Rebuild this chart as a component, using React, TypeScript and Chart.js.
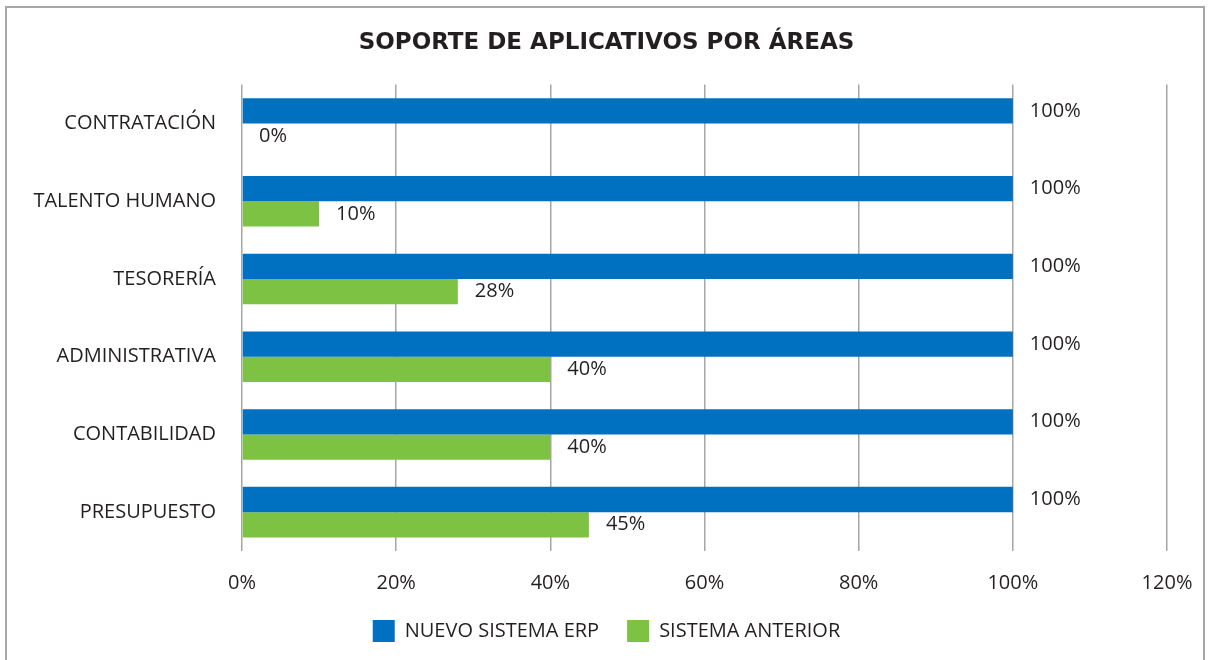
import React, { useEffect, useRef } from "react";
import { Chart, registerables } from "chart.js";

Chart.register(...registerables);

const categories = ["CONTRATACIÓN", "TALENTO HUMANO", "TESORERÍA", "ADMINISTRATIVA", "CONTABILIDAD", "PRESUPUESTO"];
const nuevoSistema = [100, 100, 100, 100, 100, 100];
const sistemaAnterior = [0, 10, 28, 40, 40, 45];
const seriesNames = ["NUEVO SISTEMA ERP", "SISTEMA ANTERIOR"];
const xTicks = [0, 20, 40, 60, 80, 100, 120];
const titleText = "SOPORTE DE APLICATIVOS POR ÁREAS";

const TEXT = "#231F20";
const FONT = '"Open Sans", sans-serif';
const PAD_LEFT = 5;

const valueLabels = {
  id: "valueLabels",
  afterDatasetsDraw(chart: any) {
    const ctx = chart.ctx;
    ctx.save();
    ctx.font = `20px ${FONT}`;
    ctx.fillStyle = TEXT;
    ctx.textAlign = "left";
    ctx.textBaseline = "middle";
    chart.data.datasets.forEach((ds: any, i: number) => {
      const meta = chart.getDatasetMeta(i);
      meta.data.forEach((el: any, j: number) => {
        ctx.fillText(ds.data[j] + "%", el.x + 17, el.y);
      });
    });
    ctx.restore();
  },
};

export default function App() {
  const ref = useRef<HTMLCanvasElement | null>(null);
  useEffect(() => {
    if (!ref.current) return;
    const chart = new Chart(ref.current, {
      type: "bar",
      data: {
        labels: categories,
        datasets: [
          { label: seriesNames[0], data: nuevoSistema, backgroundColor: "#0070C0", borderWidth: 0 },
          { label: seriesNames[1], data: sistemaAnterior, backgroundColor: "#7DC242", borderWidth: 0 },
        ],
      },
      options: {
        indexAxis: "y",
        responsive: false,
        animation: false,
        devicePixelRatio: 1,
        layout: { padding: { left: PAD_LEFT, right: 0, top: 0, bottom: 48 } },
        datasets: { bar: { categoryPercentage: 0.65, barPercentage: 1.0 } },
        scales: {
          x: {
            min: 0,
            max: 120,
            afterBuildTicks: (scale: any) => {
              scale.ticks = xTicks.map((v) => ({ value: v }));
            },
            afterFit: (scale: any) => {
              scale.height = scale.height - 23;
              scale.paddingRight = 0;
            },
            ticks: {
              callback: (v: any) => v + "%",
              color: TEXT,
              font: { family: FONT, size: 20 },
              padding: 20,
              maxRotation: 0,
            },
            grid: { color: "#A6A6A6", lineWidth: 1.5, drawTicks: false },
            border: { display: false },
          },
          y: {
            afterFit: (scale: any) => {
              scale.width = 242 - PAD_LEFT;
            },
            ticks: {
              color: TEXT,
              font: { family: FONT, size: 20 },
              padding: 26,
            },
            grid: { display: false, drawTicks: false },
            border: { display: false },
          },
          yRight: {
            type: "category",
            position: "right",
            afterFit: (scale: any) => {
              scale.width = 1208 - 1167;
            },
            ticks: { display: false },
            grid: { display: false, drawTicks: false },
            border: { display: false },
          },
        },
        plugins: {
          title: {
            display: true,
            text: titleText,
            color: TEXT,
            font: { family: '"DejaVu Sans", sans-serif', size: 23, weight: "bold" },
            padding: { top: 29, bottom: 28 },
          },
          legend: {
            position: "bottom",
            labels: {
              color: TEXT,
              font: { family: FONT, size: 20 },
              boxWidth: 22,
              boxHeight: 22,
              padding: 28,
            },
          },
          tooltip: { enabled: false },
        },
      },
      plugins: [valueLabels],
    } as any);
    return () => chart.destroy();
  }, []);

  return (
    <div
      style={{
        position: "fixed",
        left: 0,
        top: 0,
        width: 1208,
        height: 660,
        overflow: "hidden",
        background: "#fff",
      }}
    >
      <div
        style={{
          position: "absolute",
          left: 5,
          top: 6,
          width: 1196,
          height: 700,
          border: "2px solid #A6A6A6",
        }}
      />
      <canvas
        ref={ref}
        width={1208}
        height={700}
        style={{ position: "absolute", left: 0, top: 0, width: 1208, height: 700 }}
      />
    </div>
  );
}
